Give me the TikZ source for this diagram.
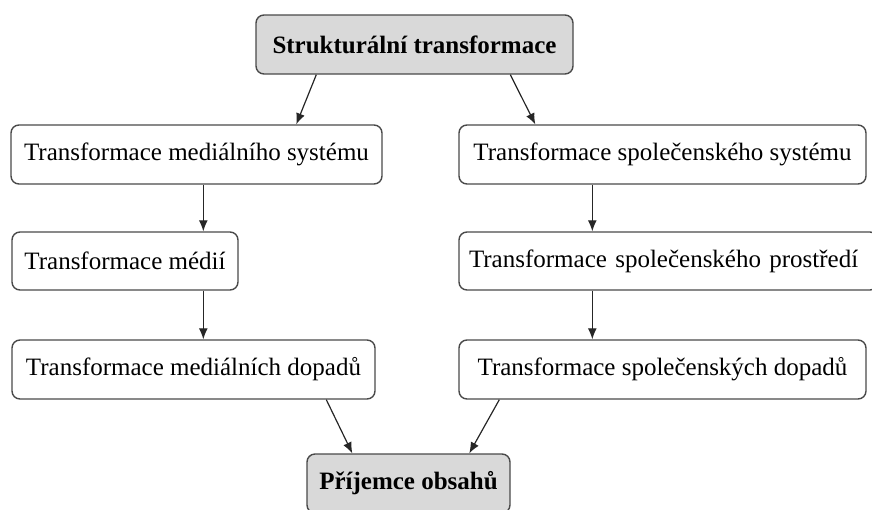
\documentclass[tikz,border=0pt]{standalone}
\usepackage{fontspec}
\setmainfont{Liberation Serif}
\usetikzlibrary{arrows.meta}
\definecolor{edgegray}{HTML}{4A4A4A}
\definecolor{boxgray}{HTML}{D9D9D9}
\begin{document}
\begin{tikzpicture}[x=1pt,y=-1pt,
  box/.style={draw=edgegray, line width=1.4pt, rounded corners=8pt, fill=white,
    minimum height=59pt, inner sep=0pt, font=\fontsize{25}{30}\selectfont},
  keybox/.style={box, fill=boxgray, font=\fontsize{25}{30}\selectfont\bfseries},
  arr/.style={draw=black!85, line width=1.2pt, -{Latex[length=11pt,width=9pt]}}]
\useasboundingbox (0,0) rectangle (872,509);

% nodes
\node[keybox, minimum width=317pt] (top) at (414.5,44.5) {Strukturální transformace};
\node[box, minimum width=371pt] (L1) at (196.5,154.5) {Transformace mediálního systému};
\node[box, minimum width=226pt, minimum height=58pt] (L2) at (125,261) {Transformace médií};
\node[box, minimum width=363pt] (L3) at (193.5,369.5) {Transformace mediálních dopadů};
\node[box, minimum width=407pt] (R1) at (662.5,154.5) {Transformace společenského systému};
\node[box, minimum width=419pt, minimum height=58pt, text width=399pt, align=left] (R2) at (668.5,261) {Transformace společenského prostředí};
\node[box, minimum width=407pt] (R3) at (662.5,369.5) {Transformace společenských dopadů};
\node[keybox, minimum width=203pt] (P) at (408.5,483.5) {Příjemce obsahů};

% connectors
\draw[arr] ([xshift=61pt]top.south west) -- ([xshift=286pt]L1.north west);
\draw[arr] ([xshift=255pt]top.south west) -- ([xshift=77pt]R1.north west);
\draw[arr] ([xshift=193pt]L1.south west) -- ([xshift=192pt]L2.north west);
\draw[arr] ([xshift=192pt]L2.south west) -- ([xshift=192pt]L3.north west);
\draw[arr] ([xshift=134pt]R1.south west) -- ([xshift=134pt]R2.north west);
\draw[arr] ([xshift=134pt]R2.south west) -- ([xshift=134pt]R3.north west);
\draw[arr] ([xshift=315pt]L3.south west) -- ([xshift=46pt]P.north west);
\draw[arr] ([xshift=41pt]R3.south west) -- ([xshift=163pt]P.north west);
\end{tikzpicture}
\end{document}
